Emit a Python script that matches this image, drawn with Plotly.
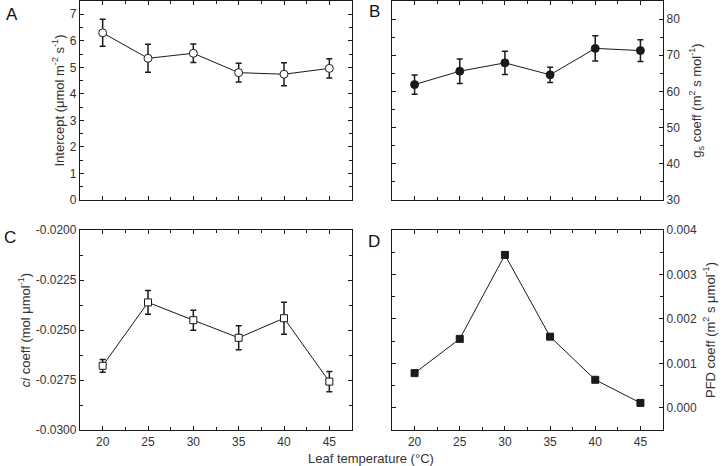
import plotly.graph_objects as go

temps = [20, 25, 30, 35, 40, 45]

intercept = [6.30, 5.34, 5.53, 4.80, 4.74, 4.96]
intercept_err = [0.51, 0.53, 0.35, 0.35, 0.43, 0.36]

gs_coeff = [61.9, 65.6, 67.9, 64.6, 71.9, 71.3]
gs_err = [2.65, 3.4, 3.2, 2.1, 3.5, 3.0]

ci_coeff = [-0.02679, -0.02362, -0.02451, -0.02539, -0.02441, -0.02758]
ci_err = [0.00032, 0.00059, 0.00050, 0.00060, 0.00080, 0.00051]

pfd_coeff = [0.00078, 0.00155, 0.00344, 0.00160, 0.00063, 0.00011]
pfd_err = [0.00005, 0.00004, 0.00002, 0.00004, 0.00004, 0.00001]

ci_tickvals = [-0.03, -0.0275, -0.025, -0.0225, -0.02]
ci_ticktext = ["-0.0300", "-0.0275", "-0.0250", "-0.0225", "-0.0200"]

FONT = "Liberation Sans, Arial, sans-serif"
LINE = "#1a1a1a"
TXT = "#333333"

W, H = 724, 466
xl = (80 / W, 352 / W)
xr = (392 / W, 663 / W)
yt = (1 - 200 / H, 1 - 1 / H)
yb = (1 - 430 / H, 1 - 230 / H)

fig = go.Figure()


def add(x, y, err, xa, ya, symbol, filled, size):
    fig.add_trace(go.Scatter(
        x=x, y=y, xaxis=xa, yaxis=ya, mode="lines+markers",
        line=dict(color=LINE, width=1),
        marker=dict(symbol=symbol, size=size,
                    color=LINE if filled else "white",
                    line=dict(color=LINE, width=1)),
        error_y=dict(type="data", array=err, visible=True,
                     color=LINE, thickness=1.5, width=3),
        showlegend=False,
    ))


add(temps, intercept, intercept_err, "x", "y", "circle", False, 8)
add(temps, gs_coeff, gs_err, "x2", "y2", "circle", True, 8)
add(temps, ci_coeff, ci_err, "x3", "y3", "square", False, 7)
add(temps, pfd_coeff, pfd_err, "x4", "y4", "square", True, 7)

common_ax = dict(
    showline=True, linecolor=LINE, linewidth=1.3, mirror="allticks",
    ticks="inside", ticklen=4, tickwidth=1, tickcolor=LINE,
    showgrid=False, zeroline=False,
    tickfont=dict(family=FONT, size=12, color=TXT),
    minor=dict(ticks="inside", ticklen=3, tickwidth=1, tickcolor=LINE, showgrid=False),
)

xcommon = dict(common_ax, range=[17.5, 47.5], tick0=20, dtick=5,
               minor=dict(common_ax["minor"], dtick=2.5, tick0=20))

title_font = dict(family=FONT, size=13, color=TXT)

fig.update_layout(
    width=W, height=H,
    margin=dict(l=0, r=0, t=0, b=0),
    paper_bgcolor="white", plot_bgcolor="white",
    template="none",
    font=dict(family=FONT, color=TXT),
    xaxis=dict(xcommon, domain=xl, anchor="y", showticklabels=False),
    xaxis2=dict(xcommon, domain=xr, anchor="y2", showticklabels=False),
    xaxis3=dict(xcommon, domain=xl, anchor="y3"),
    xaxis4=dict(xcommon, domain=xr, anchor="y4"),
    yaxis=dict(common_ax, domain=yt, anchor="x", range=[0, 7.5], dtick=1, tick0=0,
               minor=dict(common_ax["minor"], dtick=0.5, tick0=0),
               title=dict(text="Intercept (μmol m<sup>-2</sup> s<sup>-1</sup>)",
                          font=title_font, standoff=2)),
    yaxis2=dict(common_ax, domain=yt, anchor="x2", side="right", range=[30, 85], dtick=10, tick0=30,
                minor=dict(common_ax["minor"], dtick=5, tick0=30),
                title=dict(text="g<sub>s</sub> coeff (m<sup>2</sup> s mol<sup>-1</sup>)",
                           font=title_font, standoff=12)),
    yaxis3=dict(common_ax, domain=yb, anchor="x3", range=[-0.03, -0.02],
                tickmode="array", tickvals=ci_tickvals, ticktext=ci_ticktext,
                minor=dict(common_ax["minor"], dtick=0.00125, tick0=-0.03),
                title=dict(text="<i>ci</i> coeff (mol μmol<sup>-1</sup>)",
                           font=title_font, standoff=2)),
    yaxis4=dict(common_ax, domain=yb, anchor="x4", side="right", range=[-0.0005, 0.004], dtick=0.001, tick0=0,
                tickformat=".3f",
                minor=dict(common_ax["minor"], dtick=0.0005, tick0=0),
                title=dict(text="PFD coeff (m<sup>2</sup> s μmol<sup>-1</sup>)",
                           font=title_font, standoff=9)),
    annotations=[
        dict(text="A", x=4 / W, y=1 - 3 / H, xref="paper", yref="paper", xanchor="left", yanchor="top",
             showarrow=False, font=dict(family=FONT, size=17, color="#111")),
        dict(text="B", x=367 / W, y=1 - 0 / H, xref="paper", yref="paper", xanchor="left", yanchor="top",
             showarrow=False, font=dict(family=FONT, size=17, color="#111")),
        dict(text="C", x=2 / W, y=1 - 226 / H, xref="paper", yref="paper", xanchor="left", yanchor="top",
             showarrow=False, font=dict(family=FONT, size=17, color="#111")),
        dict(text="D", x=366 / W, y=1 - 230 / H, xref="paper", yref="paper", xanchor="left", yanchor="top",
             showarrow=False, font=dict(family=FONT, size=17, color="#111")),
        dict(text="Leaf temperature (°C)", x=371 / W, y=1 - 458 / H, xref="paper", yref="paper",
             xanchor="center", yanchor="middle", showarrow=False,
             font=dict(family=FONT, size=13, color=TXT)),
    ],
)

fig.write_html("out.html", config={"displayModeBar": False})

with open("out.html", "r", encoding="utf-8") as f:
    html = f.read()
html = html.replace("<body>", '<body style="margin:0;padding:0;overflow:hidden">', 1)
with open("out.html", "w", encoding="utf-8") as f:
    f.write(html)
